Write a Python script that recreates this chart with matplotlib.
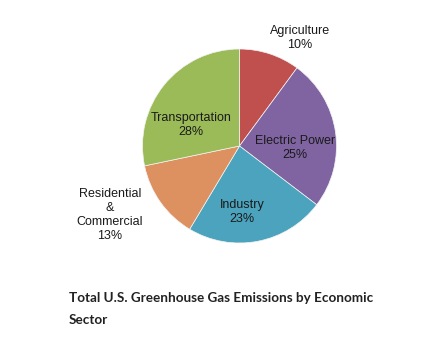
import matplotlib
matplotlib.use("Agg")
import matplotlib.pyplot as plt

sectors = ["Agriculture", "Electric Power", "Industry", "Residential\n&\nCommercial", "Transportation"]
shares = [10, 25, 23, 13, 28]
colors = ["#C0504D", "#8064A2", "#4BA3BE", "#DD9160", "#9BBB59"]
title = "Total U.S. Greenhouse Gas Emissions by Economic\nSector"

W, H = 440, 351
fig = plt.figure(figsize=(W / 100, H / 100), dpi=100)
fig.patch.set_facecolor("white")

cx, cy, r = 239.5, 146, 97
ax = fig.add_axes([(cx - r) / W, (H - cy - r) / H, 2 * r / W, 2 * r / H])
wedges, _ = ax.pie(shares, colors=colors, startangle=90, counterclock=False,
                   radius=1, wedgeprops=dict(linewidth=0.5, edgecolor="#f4f4f4"))
ax.set_xlim(-1, 1)
ax.set_ylim(-1, 1)
ax.set_aspect("equal")
ax.axis("off")

def px(x, y):
    return ((x - cx) / r, (cy - y) / r)

label_pos = [px(300, 38), px(295, 148), px(242, 212), px(110, 215), px(191, 125)]
for name, val, (lx, ly) in zip(sectors, shares, label_pos):
    ax.text(lx, ly, f"{name}\n{val}%", ha="center", va="center", fontsize=9.0,
            family="Liberation Sans", color="#1a1a1a", linespacing=1.25,
            clip_on=False)

fig.text(69 / W, 1 - 292 / H, title, ha="left", va="top", fontsize=9.7,
         fontweight="bold", family="Lato", color="#222222", linespacing=2.0)

fig.savefig("out.png", dpi=100)
